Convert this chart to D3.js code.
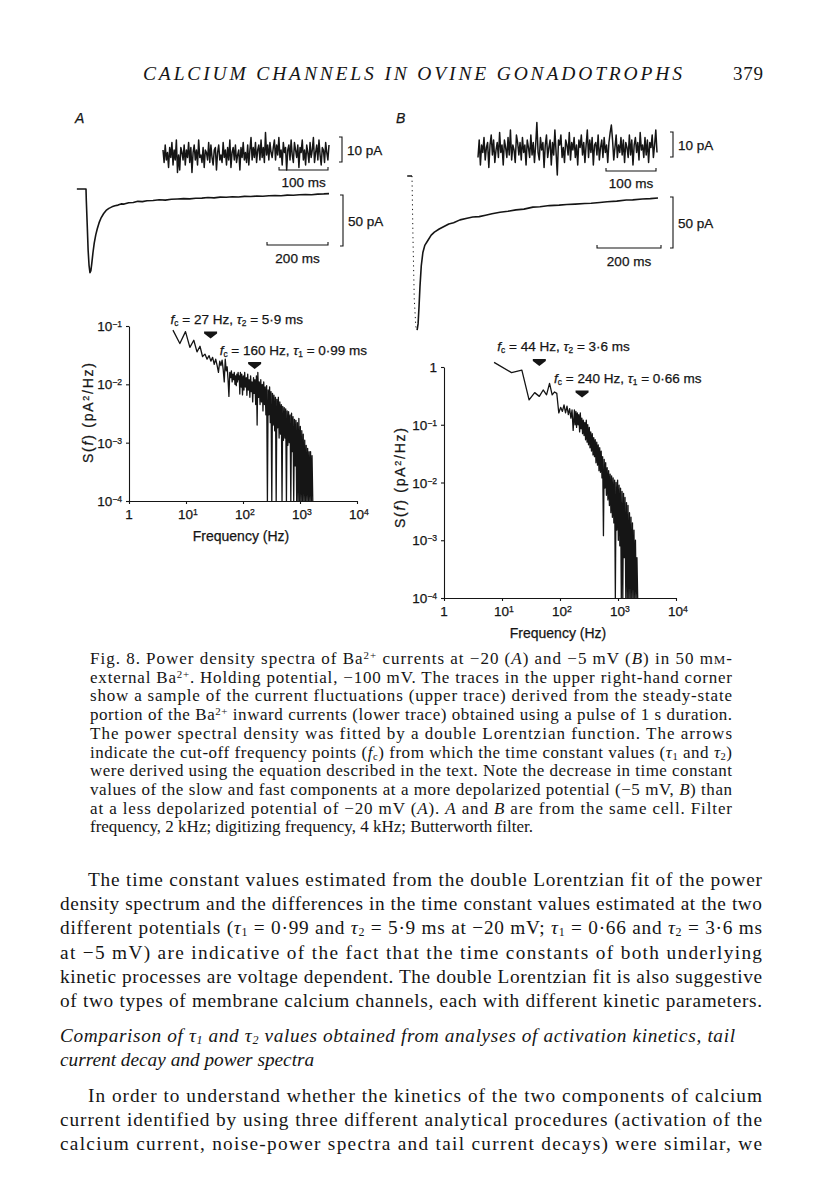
<!DOCTYPE html>
<html>
  <head>
    <meta charset="utf-8" />
    <title>Calcium channels in ovine gonadotrophs - Fig. 8</title>
    <script src="https://d3js.org/d3.v7.min.js" charset="utf-8"></script>
    <style>
      html,
      body {
        margin: 0;
        padding: 0;
        background-color: #fff;
      }
      svg {
        display: block;
      }
      .serif {
        font-family: "Liberation Serif", "Times New Roman", serif;
        fill: #151515;
      }
      .sans {
        font-family: "Liberation Sans", Arial, sans-serif;
        fill: #151515;
        stroke: #151515;
        stroke-width: 0.25;
      }
      .trace {
        fill: none;
        stroke: #151515;
        stroke-linejoin: round;
      }
      .bar {
        fill: none;
        stroke: #151515;
        stroke-width: 1.1;
      }
      .axis path,
      .axis line {
        stroke: #151515;
        stroke-width: 1.1;
      }
    </style>
  </head>

  <body>
    <svg id="page"></svg>

    <script>
      // ---------- data ----------

      // Spectrum A (-20 mV): frequency (Hz) and S(f) (pA^2/Hz), 1e-4 = axis floor
      const specA_f = [
        5.9, 7.8, 9.8, 11.7, 13.7, 15.6, 17.6, 19.5, 21.5, 23.4, 25.4, 27.3,
        29.3, 31.3, 33.2, 35.2, 37.1, 39.1, 41, 43, 44.9, 46.9, 48.8, 50.8,
        52.7, 54.7, 56.6, 58.6, 60.5, 62.5, 64.5, 66.4, 68.4, 70.3, 72.3, 74.2,
        76.2, 78.1, 80.1, 82, 84, 85.9, 87.9,
        90, 93, 95, 98, 101, 104, 107, 110, 114, 117, 121, 124, 128, 132, 136,
        140, 144, 148, 153, 157, 162, 167, 172, 177, 182, 188, 193, 199, 205,
        211, 218, 224, 231, 238, 245, 252, 260, 268, 276, 284, 293, 301, 310,
        320, 329, 339, 349, 360, 371, 382, 393, 405, 417, 430, 443, 456, 470,
        484, 498, 513, 529, 544, 561, 578, 595, 613, 631, 650, 670, 690, 711,
        732, 754, 776, 800, 824, 848, 874, 900, 927, 955, 984, 1013, 1044, 1075,
        1107, 1140, 1175, 1210, 1246, 1284, 1322, 1362, 1403, 1445, 1488, 1533,
        1579, 1626, 1675
      ];
      const specA_s = [
        0.085, 0.05, 0.08, 0.043, 0.057, 0.036, 0.045, 0.03, 0.033, 0.027,
        0.031, 0.025, 0.029, 0.022, 0.027, 0.021, 0.016, 0.025, 0.021, 0.026,
        0.018, 0.011, 0.027, 0.017, 0.02, 0.012, 0.0062, 0.016, 0.013, 0.017,
        0.011, 0.015, 0.012, 0.016, 0.01, 0.014, 0.0095, 0.015, 0.011, 0.016,
        0.012, 0.014, 0.0068,
        0.016, 0.009, 0.015, 0.0066, 0.014, 0.008, 0.016, 0.009, 0.013, 0.0065,
        0.015, 0.008, 0.012, 0.006, 0.014, 0.0075, 0.011, 0.005, 0.013, 0.007,
        0.012, 0.0045, 0.014, 0.002, 0.016, 0.006, 0.011, 0.0045, 0.012, 0.005,
        0.01, 0.0035, 0.011, 0.0045, 0.009, 0.003, 0.0095, 0.0001, 0.008, 0.003,
        0.009, 0.0022, 0.0075, 0.0001, 0.007, 0.002, 0.0065, 0.0016, 0.006,
        0.0001, 0.0055, 0.0018, 0.006, 0.0012, 0.005, 0.0014, 0.0045, 0.0001,
        0.0042, 0.0011, 0.004, 0.0012, 0.0038, 0.0001, 0.0035, 0.0009, 0.0034,
        0.001, 0.003, 0.0001, 0.0032, 0.0007, 0.0028, 0.0001, 0.0025, 0.0004,
        0.0024, 0.0001, 0.0022, 0.0001, 0.0026, 0.0001, 0.0019, 0.0001, 0.0016,
        0.0001, 0.0014, 0.0001, 0.0011, 0.0001, 0.0009, 0.0001, 0.0008, 0.0001,
        0.0007, 0.0001, 0.0007, 0.0001, 0.0006, 0.0001
      ];

      // Spectrum B (-5 mV)
      const specB_f = [
        7.3, 14.6, 22, 29.3, 36.6, 44, 51.3, 58.6, 66, 73.3, 80.6, 88, 95.3,
        102.6, 110, 117.3, 124.6, 132, 139.3, 146.6, 154, 161.3, 168.6,
        177, 182, 188, 193, 199, 205, 211, 218, 224, 231, 238, 245, 252, 260,
        268, 276, 284, 293, 301, 310, 320, 329, 339, 349, 360, 371, 382, 393,
        405, 417, 430, 443, 456, 470, 484, 498, 513, 529, 544, 561, 578, 595,
        613, 631, 650, 670, 690, 711, 732, 754, 776, 800, 824, 848, 874, 900,
        927, 955, 984, 1013, 1044, 1075, 1107, 1140, 1175, 1210, 1246, 1284,
        1322, 1362, 1403, 1445, 1488, 1533, 1579, 1626, 1675, 1725, 1777, 1830,
        1885, 1942, 2000, 2060, 2122, 2185
      ];
      const specB_s = [
        1.2, 0.8, 0.88, 0.27, 0.36, 0.31, 0.4, 0.33, 0.52, 0.33, 0.37, 0.35,
        0.16, 0.2, 0.17, 0.22, 0.16, 0.21, 0.15, 0.19, 0.13, 0.18, 0.08,
        0.18, 0.1, 0.17, 0.09, 0.16, 0.1, 0.15, 0.075, 0.16, 0.085, 0.13, 0.07,
        0.12, 0.065, 0.11, 0.055, 0.12, 0.05, 0.1, 0.045, 0.09, 0.04, 0.075,
        0.035, 0.07, 0.03, 0.06, 0.028, 0.055, 0.022, 0.05, 0.02, 0.045, 0.016,
        0.04, 0.015, 0.035, 0.012, 0.028, 0.0012, 0.025, 0.008, 0.022, 0.006,
        0.018, 0.005, 0.016, 0.004, 0.014, 0.003, 0.013, 0.0025, 0.012, 0.002,
        0.011, 0.0001, 0.01, 0.0015, 0.011, 0.001, 0.009, 0.0008, 0.008, 0.0001,
        0.007, 0.0001, 0.0065, 0.0005, 0.0055, 0.0001, 0.0045, 0.0001, 0.004,
        0.0001, 0.003, 0.0001, 0.0025, 0.0001, 0.002, 0.0001, 0.0015, 0.0001,
        0.001, 0.0001, 0.0005, 0.0001
      ];

      // cut-off frequencies (Hz) and time constants (ms)
      const cutoffA = [27, 160];
      const tauA = ["5·9", "0·99"];
      const cutoffB = [44, 240];
      const tauB = ["3·6", "0·66"];
      const tauIndex = [2, 1];

      // axis ticks
      const freqTicks = [1, 10, 100, 1000, 10000];
      const sTicksA = [1e-4, 1e-3, 1e-2, 1e-1];
      const sTicksB = [1e-4, 1e-3, 1e-2, 1e-1, 1];

      // current fluctuation samples (pA), steady-state portion
      const noiseA = [
        2, -3, 4, -2, 1, -5, 3, -1, 5, -4, 2, -2, 6, -7, 0, -6, 3, 1, -2, 4,
        -4, 2, -1, 5, -3, 3, -7, 1, 4, -2, 2, -4, 6, -1, 0, -3, 3, -5, 2, 1,
        -2, 5, -3, 4, -1, -4, 2, 3, -6, 1, 4, -2, 0, -3, 5, -1, 2, -4, 3, -2,
        6, -5, 1, 3, -2, 4, -3, 0, 2, -6, 3, -1, 5, -2, 1, -3, 4, -4, 2, 7,
        -2, 3, -1, 5, -3, 2, 4, -2, 6, -1, 3, -3, 9, 0, 4, -2, 5, 1, -1, 3,
        6, -2, 4, 0, 7, -1, 2, -4, 5, 1, 3, -6, 2, 4, -2, 6, 0, -3, 5, 2,
        -1, 4, -5, 3, 1, 6, -2, 2, -4, 4, 1, -3, 5, -1, 2, 7, -3, 1, 4, -2,
        6, 0, -4, 3, 2, -3, 5, 1, -2, 4
      ];
      const noiseB = [
        -3, 4, -6, 2, -1, 5, -4, 1, 3, -7, 2, 6, -2, 4, -5, 0, 3, -3, 7, -1,
        2, -6, 4, 1, -3, 5, -2, 8, -4, 2, 0, -5, 6, 3, -2, 3, -4, 5, -1, 2,
        -6, 4, 1, -3, 6, -2, 3, -5, 2, 11, -1, -4, 5, 0, 3, -7, 2, 6, -3, 1,
        4, -6, 3, -2, 8, -1, -10, 4, 2, 6, -3, 1, -5, 4, 2, -2, 7, -4, 3, 0,
        5, -3, 2, -6, 4, 1, 6, -2, 3, -5, 2, 8, -3, 4, -1, 5, -6, 2, 3, -2,
        6, -4, 1, 4, -3, 5, -1, 2, -5, 3, 7, 10, 4, -4, 1, 6, -3, 2, -1, 5,
        -2, 4, -5, 3, 1, -3, 6, -2, 4, -6, 2, 5, -1, 3, -4, 7, 0, 2, -3, 5,
        -2, 4, -5, 3, 1, 6, -3, 2, 8, -1
      ];

      // Ba2+ inward current during the pulse: time (ms) and current (pA)
      const currentA_t = [
        -30, 0, 1, 4, 7, 10, 13, 16, 19, 23, 27, 32, 37, 43, 50, 58, 66, 75, 85,
        95, 105, 115, 125, 140, 155, 170, 185, 200, 220, 240, 260, 280, 300,
        320, 340, 360, 380, 400, 420, 440, 460, 480, 500, 520, 540, 560, 580,
        600, 620, 640, 660, 680, 700, 720, 740, 760, 780, 797
      ];
      const currentA_i = [
        0, 0, -11, -35, -60, -75, -82, -80, -73, -62, -53, -45, -39, -33, -28,
        -24, -21, -19, -17.5, -16.5, -15.8, -14.6, -14.8, -13.5, -13.2, -12.1,
        -12.4, -11.5, -11.2, -10.6, -10.9, -10.1, -9.8, -9.4, -9.7, -9.0, -8.9,
        -8.4, -8.7, -8.0, -8.1, -7.6, -7.8, -7.2, -7.3, -6.9, -7.1, -6.6, -6.4,
        -6.6, -6.0, -6.1, -5.6, -5.4, -5.6, -5.0, -4.8, -4.5
      ];
      const currentB_t = [
        -15, 0, 3, 7, 12, 16, 19, 22, 25, 29, 34, 40, 50, 60, 70, 85, 100, 115,
        130, 150, 172, 190, 210, 230, 250, 275, 300, 325, 350, 378, 400, 430,
        460, 484, 510, 540, 560, 587, 610, 640, 670, 690, 720, 745, 769
      ];
      const currentB_i = [
        0, 0, -60, -120, -148, -151, -145, -128, -108, -88, -75, -68, -63, -58,
        -55, -52, -49.5, -47, -45.8, -43, -41.5, -40.2, -39.8, -38.4, -37,
        -35.5, -34.6, -33.2, -32.5, -30.5, -30.2, -29, -28.6, -28, -27.6, -27,
        -26.7, -26, -25.3, -24.6, -23.6, -23.4, -22.6, -22.2, -21.5
      ];

      // ---------- text of the page ----------
      const captionLines = [
        "Fig. 8. Power density spectra of Ba{^:2+} currents at \u221220 ({i:A}) and \u22125 mV ({i:B}) in 50 m{sc:M}-",
        "external Ba{^:2+}. Holding potential, \u2212100 mV. The traces in the upper right-hand corner",
        "show a sample of the current fluctuations (upper trace) derived from the steady-state",
        "portion of the Ba{^:2+} inward currents (lower trace) obtained using a pulse of 1 s duration.",
        "The power spectral density was fitted by a double Lorentzian function. The arrows",
        "indicate the cut-off frequency points ({i:f}{_:c}) from which the time constant values ({i:τ}{_:1} and {i:τ}{_:2})",
        "were derived using the equation described in the text. Note the decrease in time constant",
        "values of the slow and fast components at a more depolarized potential (\u22125 mV, {i:B}) than",
        "at a less depolarized potential of \u221220 mV ({i:A}). {i:A} and {i:B} are from the same cell. Filter",
        "frequency, 2 kHz; digitizing frequency, 4 kHz; Butterworth filter."
      ];
      const bodyLines = [
        "The time constant values estimated from the double Lorentzian fit of the power",
        "density spectrum and the differences in the time constant values estimated at the two",
        "different potentials ({i:τ}{_:1} = 0·99 and {i:τ}{_:2} = 5·9 ms at \u221220 mV; {i:τ}{_:1} = 0·66 and {i:τ}{_:2} = 3·6 ms",
        "at \u22125 mV) are indicative of the fact that the time constants of both underlying",
        "kinetic processes are voltage dependent. The double Lorentzian fit is also suggestive",
        "of two types of membrane calcium channels, each with different kinetic parameters."
      ];
      const headingLines = [
        "Comparison of τ{_:1} and τ{_:2} values obtained from analyses of activation kinetics, tail",
        "current decay and power spectra"
      ];
      const paraLines = [
        "In order to understand whether the kinetics of the two components of calcium",
        "current identified by using three different analytical procedures (activation of the",
        "calcium current, noise-power spectra and tail current decays) were similar, we"
      ];

      // ---------- drawing ----------
      const width = 816;
      const height = 1203;

      const svg = d3.select("#page").attr("width", width).attr("height", height);
      svg.append("rect").attr("width", width).attr("height", height).attr("fill", "#fff");

      // small markup: {i:..} italic, {^:..} superscript, {_:..} subscript, {sc:..} small caps
      function rich(sel, str, size) {
        const re = /\{(i|\^|_|sc):([^}]*)\}/g;
        let last = 0;
        let m;
        while ((m = re.exec(str)) !== null) {
          if (m.index > last) sel.append("tspan").text(str.slice(last, m.index));
          const t = sel.append("tspan").text(m[2]);
          if (m[1] === "i") t.style("font-style", "italic");
          if (m[1] === "^") t.attr("font-size", size * 0.64).attr("baseline-shift", size * 0.32 + "px");
          if (m[1] === "_") t.attr("font-size", size * 0.62).attr("baseline-shift", -size * 0.12 + "px");
          if (m[1] === "sc") t.attr("font-size", size * 0.76);
          last = re.lastIndex;
        }
        if (last < str.length) sel.append("tspan").text(str.slice(last));
      }

      function textLine(x, y, str, size, cls, length, italic) {
        const t = svg
          .append("text")
          .attr("class", cls)
          .attr("x", x)
          .attr("y", y)
          .attr("font-size", size);
        if (italic) t.style("font-style", "italic");
        if (length) t.attr("textLength", length).attr("lengthAdjust", "spacing");
        rich(t, str, size);
        return t;
      }

      // running head
      textLine(143, 80, "CALCIUM CHANNELS IN OVINE GONADOTROPHS", 19.5, "serif", 539, true);
      textLine(733, 80, "379", 19, "serif", 30, false);

      // panel letters
      textLine(75, 123, "A", 14, "sans", null, true);
      textLine(396, 123, "B", 14, "sans", null, true);

      // ---- current traces ----
      function hBar(x1, x2, y) {
        svg.append("path").attr("class", "bar").attr("d", `M${x1},${y - 3}V${y}H${x2}V${y - 3}`);
      }
      function vBar(x, y1, y2) {
        svg.append("path").attr("class", "bar").attr("d", `M${x - 3},${y1}H${x}V${y2}H${x - 3}`);
      }

      function tracePanel(cfg) {
        // noise sample (upper trace)
        const dt = cfg.noiseMs / (cfg.noise.length - 1);
        const nx = d3.scaleLinear().domain([0, cfg.noiseMs]).range(cfg.noiseX);
        const ny = d3.scaleLinear().domain([0, 10]).range([cfg.noiseY0, cfg.noiseY0 - 25]);
        svg
          .append("path")
          .datum(cfg.noise)
          .attr("class", "trace")
          .attr("stroke-width", 1.5)
          .attr("d", d3.line().x((d, i) => nx(i * dt)).y((d) => ny(d)));

        // 100 ms and 10 pA calibration
        const len100 = nx(100) - nx(0);
        hBar(cfg.noiseBar[0] - len100, cfg.noiseBar[0], cfg.noiseBar[1]);
        textLine(cfg.noiseBar[0] - len100 / 2, cfg.noiseBar[1] + 17, "100 ms", 13.5, "sans")
          .attr("text-anchor", "middle");
        const len10 = ny(0) - ny(10);
        vBar(cfg.noisePA[0], cfg.noisePA[1], cfg.noisePA[1] + len10);
        textLine(cfg.noisePA[0] + 5, cfg.noisePA[1] + len10 / 2 + 5, "10 pA", 13.5, "sans");

        // inward current (lower trace)
        const tx = d3.scaleLinear().domain([0, cfg.curMs]).range(cfg.curX);
        const iy = d3.scaleLinear().domain([0, -100]).range([cfg.holdY, cfg.holdY + 102]);
        const pts = d3.zip(cfg.t, cfg.i);
        const line = d3.line().x((d) => tx(d[0])).y((d) => iy(d[1]));
        if (cfg.dottedDrop) {
          const minIdx = d3.minIndex(cfg.i);
          svg.append("path").datum(pts.slice(0, 2)).attr("class", "trace").attr("stroke-width", 1.5).attr("d", line);
          svg
            .append("path")
            .datum(pts.slice(1, minIdx + 1))
            .attr("class", "trace")
            .attr("stroke-width", 1)
            .attr("stroke-dasharray", "1.2,3.5")
            .attr("d", line);
          svg.append("path").datum(pts.slice(minIdx)).attr("class", "trace").attr("stroke-width", 1.6).attr("d", line);
        } else {
          svg.append("path").datum(pts).attr("class", "trace").attr("stroke-width", 1.6).attr("d", line);
        }

        // 200 ms and 50 pA calibration
        const len200 = tx(200) - tx(0);
        hBar(cfg.curBar[0] - len200, cfg.curBar[0], cfg.curBar[1]);
        textLine(cfg.curBar[0] - len200 / 2, cfg.curBar[1] + 18, "200 ms", 13.5, "sans")
          .attr("text-anchor", "middle");
        const len50 = iy(-50) - iy(0);
        vBar(cfg.curPA[0], cfg.curPA[1], cfg.curPA[1] + len50);
        textLine(cfg.curPA[0] + 5, cfg.curPA[1] + len50 / 2 + 5, "50 pA", 13.5, "sans");
      }

      tracePanel({
        noise: noiseA, noiseMs: 339, noiseX: [163, 329], noiseY0: 155,
        noiseBar: [328, 170], noisePA: [342, 137],
        t: currentA_t, i: currentA_i, curMs: 797, curX: [86, 329], holdY: 189,
        curBar: [328, 245], curPA: [343, 195], dottedDrop: false
      });
      tracePanel({
        noise: noiseB, noiseMs: 358, noiseX: [478, 657], noiseY0: 150,
        noiseBar: [656, 171], noisePA: [673, 132],
        t: currentB_t, i: currentB_i, curMs: 769, curX: [412, 658], holdY: 176,
        curBar: [661, 248], curPA: [673, 197], dottedDrop: true
      });

      // ---- power spectra ----
      function spectrumPanel(cfg) {
        const x = d3.scaleLog().domain([1, 1e4]).range(cfg.xRange);
        const y = d3.scaleLog().domain(cfg.yDomain).range(cfg.yRange);
        const g = svg.append("g");
        const x0 = cfg.xRange[0];
        const y0 = cfg.yRange[0];

        g.append("g")
          .attr("class", "axis")
          .attr("transform", `translate(0,${y0})`)
          .call(d3.axisBottom(x).tickValues(freqTicks).tickSize(3).tickSizeOuter(0).tickFormat(""));
        g.append("g")
          .attr("class", "axis")
          .attr("transform", `translate(${x0},0)`)
          .call(d3.axisLeft(y).tickValues(cfg.sTicks).tickSize(3).tickSizeOuter(0).tickFormat(""));

        freqTicks.forEach((v) => {
          const e = Math.round(Math.log10(v));
          const t = g
            .append("text")
            .attr("class", "sans")
            .attr("x", x(v) + (e === 0 ? 0 : 2))
            .attr("y", y0 + 18)
            .attr("text-anchor", "middle")
            .attr("font-size", 13.5);
          rich(t, e === 0 ? "1" : `10{^:${e}}`, 13.5);
        });
        cfg.sTicks.forEach((v) => {
          const e = Math.round(Math.log10(v));
          const t = g
            .append("text")
            .attr("class", "sans")
            .attr("x", x0 - 7)
            .attr("y", y(v) + 5)
            .attr("text-anchor", "end")
            .attr("font-size", 13.5);
          rich(t, e === 0 ? "1" : `10{^:\u2212${-e}}`, 13.5);
        });

        // axis titles
        g.append("text")
          .attr("class", "sans")
          .attr("x", (x(1) + x(1e4)) / 2 - 2)
          .attr("y", y0 + 40)
          .attr("text-anchor", "middle")
          .attr("font-size", 14)
          .text("Frequency (Hz)");
        const yl = g
          .append("text")
          .attr("class", "sans")
          .attr("transform", `translate(${cfg.yTitle[0]},${cfg.yTitle[1]}) rotate(-90)`)
          .attr("text-anchor", "middle")
          .attr("font-size", 14)
          .attr("textLength", 100)
          .attr("lengthAdjust", "spacing");
        rich(yl, "S({i:f})  (pA{^:2}/Hz)", 14);

        // spectrum
        const pts = d3.zip(cfg.f, cfg.s);
        g.append("path")
          .datum(pts)
          .attr("class", "trace")
          .attr("stroke-width", 1.3)
          .attr("d", d3.line().x((d) => x(d[0])).y((d) => y(Math.max(d[1], cfg.yDomain[0]))));

        // cut-off arrows and labels
        cfg.fc.forEach((fc, k) => {
          const ax = x(fc);
          const ay = y(cfg.arrowS[k]);
          g.append("path")
            .attr("d", "M-6.5,-3.5L6.5,-3.5L6.5,-1.5L0,3.5L-6.5,-1.5Z")
            .attr("transform", `translate(${ax},${ay})`)
            .attr("fill", "#151515");
          const t = g
            .append("text")
            .attr("class", "sans")
            .attr("x", ax + cfg.labelDx[k])
            .attr("y", ay - 11)
            .attr("font-size", 13.5);
          rich(t, `{i:f}{_:c} = ${fc} Hz, {i:τ}{_:${tauIndex[k]}} = ${cfg.tau[k]} ms`, 13.5);
        });
      }

      spectrumPanel({
        f: specA_f, s: specA_s, fc: cutoffA, tau: tauA,
        xRange: [129, 357], yDomain: [1e-4, 1e-1], yRange: [501, 326], sTicks: sTicksA,
        arrowS: [0.07, 0.021], labelDx: [-40, -35], yTitle: [93, 413]
      });
      spectrumPanel({
        f: specB_f, s: specB_s, fc: cutoffB, tau: tauB,
        xRange: [444, 676], yDomain: [1e-4, 1], yRange: [598, 367], sTicks: sTicksB,
        arrowS: [1.2, 0.34], labelDx: [-42, -28], yTitle: [405, 478]
      });

      // ---- caption and body text ----
      const capY0 = 664;
      const capStep = 18.7;
      captionLines.forEach((s, k) => {
        const last = k === captionLines.length - 1;
        textLine(90, capY0 + k * capStep, s, 17, "serif", last ? null : 642, false);
      });

      const bodyY0 = 886;
      const bodyStep = 24.2;
      bodyLines.forEach((s, k) => {
        const x = k === 0 ? 88 : 60;
        textLine(x, bodyY0 + k * bodyStep, s, 19.3, "serif", 762 - x, false);
      });
      headingLines.forEach((s, k) => {
        textLine(60, 1042 + k * 24.2, s, 19.3, "serif", k === 0 ? 675 : null, true);
      });
      paraLines.forEach((s, k) => {
        const x = k === 0 ? 88 : 60;
        textLine(x, 1102 + k * 24.2, s, 19.3, "serif", 762 - x, false);
      });
    </script>
  </body>
</html>
